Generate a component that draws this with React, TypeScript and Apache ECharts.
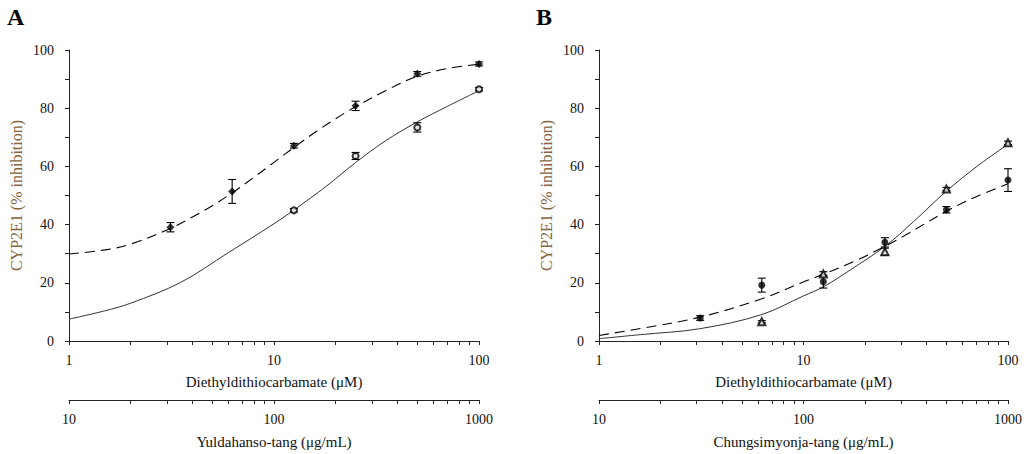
import React, { useEffect, useRef } from 'react';
import * as echarts from 'echarts';

const FONT = 'Liberation Serif';

// ---------- Panel A ----------
const ddcConcA = [3.125, 6.25, 12.5, 25, 50, 100];
const ddcMeanA = [39.1, 51.4, 67.1, 80.8, 91.8, 95.2];
const ddcErrA = [1.6, 4.1, 0.8, 1.6, 0.8, 0.7];
const herbConcA = [125, 250, 500, 1000];
const herbMeanA = [44.9, 63.6, 73.4, 86.5];
const herbErrA = [0.6, 1.2, 1.6, 0.6];
const ddcFitXA = [1, 1.5, 2, 3.125, 4, 5, 6.25, 8, 10, 12.5, 16, 20, 25, 35, 50, 70, 100];
const ddcFitYA = [29.9, 31.3, 33.3, 38.7, 42.6, 46.5, 50.9, 56.3, 61.4, 66.5, 71.9, 76.4, 80.5, 86.0, 91.0, 93.6, 95.1];
const herbFitXA = [10, 15, 20, 35, 60, 100, 125, 180, 250, 350, 500, 700, 1000];
const herbFitYA = [7.5, 10.4, 13.0, 20.1, 30.4, 40.3, 45.0, 53.2, 61.3, 68.8, 75.3, 80.6, 86.0];

// ---------- Panel B ----------
const ddcConcB = [3.125, 6.25, 12.5, 25, 50, 100];
const ddcMeanB = [7.9, 19.2, 20.4, 33.9, 45.1, 55.3];
const ddcErrB = [0.8, 2.4, 2.2, 1.6, 1.1, 3.9];
const herbConcB = [62.5, 125, 250, 500, 1000];
const herbMeanB = [6.6, 23.0, 30.7, 52.2, 68.1];
const herbErrB = [0.4, 0.8, 1.2, 0.6, 0.6];
const ddcFitXB = [1, 1.6, 3.125, 6.25, 10, 12.5, 18, 25, 33, 50, 70, 100];
const ddcFitYB = [1.9, 4.3, 8.2, 14.5, 20.3, 22.9, 27.6, 32.5, 37.2, 44.6, 49.6, 54.0];
const herbFitXB = [10, 16, 31, 62, 100, 125, 170, 250, 345, 500, 705, 1000];
const herbFitYB = [0.8, 2.2, 4.2, 9.0, 15.5, 18.6, 24.5, 32.5, 41.0, 51.5, 60.0, 67.6];

// ---------- Axes ----------
const mainTicks = [1, 2, 3, 4, 5, 6, 7, 8, 9, 10, 20, 30, 40, 50, 60, 70, 80, 90, 100];
const mainLabels = [1, 10, 100];
const herbTicks = [10, 20, 30, 40, 50, 60, 70, 80, 90, 100, 200, 300, 400, 500, 600, 700, 800, 900, 1000];
const herbLabels = [10, 100, 1000];
const yTitle = 'CYP2E1 (% inhibition)';
const ddcTitle = 'Diethyldithiocarbamate (\u03bcM)';
const herbTitleA = 'Yuldahanso-tang (\u03bcg/mL)';
const herbTitleB = 'Chungsimyonja-tang (\u03bcg/mL)';

const zip = (xs: number[], ys: number[]) => xs.map((x, i) => [x, ys[i]]);
const zip3 = (xs: number[], ys: number[], es: number[]) => xs.map((x, i) => [x, ys[i], es[i]]);

const AXIS_COLOR = '#222';
const TEXT_COLOR = '#111';

function xAxisDef(gridIndex: number, min: number, max: number, ticks: number[], labels: number[], name: string, offset: number, nameGap: number) {
  return {
    type: 'log',
    logBase: 10,
    gridIndex,
    min,
    max,
    position: 'bottom',
    offset,
    name,
    nameLocation: 'middle',
    nameGap,
    nameTextStyle: { fontFamily: FONT, fontSize: 15, color: TEXT_COLOR },
    axisLine: { show: true, onZero: false, lineStyle: { color: AXIS_COLOR, width: 1 } },
    axisTick: { show: true, inside: false, length: 4, customValues: ticks, lineStyle: { color: AXIS_COLOR } },
    axisLabel: {
      customValues: labels,
      formatter: (v: number) => String(Math.round(v)),
      fontFamily: FONT,
      fontSize: 14,
      color: TEXT_COLOR,
      margin: 12,
    },
    splitLine: { show: false },
    minorTick: { show: false },
  };
}

function yAxisDef(gridIndex: number) {
  return {
    type: 'value',
    gridIndex,
    min: 0,
    max: 100,
    interval: 20,
    name: yTitle,
    nameLocation: 'middle',
    nameGap: 45,
    nameTextStyle: { fontFamily: FONT, fontSize: 16, color: '#86653f' },
    axisLine: { show: true, lineStyle: { color: AXIS_COLOR, width: 1 } },
    axisTick: { show: true, inside: false, length: 4, lineStyle: { color: AXIS_COLOR } },
    minorTick: { show: true, splitNumber: 2, length: 4, lineStyle: { color: AXIS_COLOR } },
    axisLabel: { fontFamily: FONT, fontSize: 14, color: TEXT_COLOR, margin: 15 },
    splitLine: { show: false },
  };
}

function errorSeries(xAxisIndex: number, yAxisIndex: number, data: number[][]) {
  return {
    type: 'custom',
    xAxisIndex,
    yAxisIndex,
    data,
    encode: { x: 0, y: 1 },
    z: 3,
    renderItem: (params: any, api: any) => {
      const x = api.value(0);
      const y = api.value(1);
      const e = api.value(2);
      const top = api.coord([x, y + e]);
      const bot = api.coord([x, y - e]);
      const hw = 4;
      const st = { stroke: '#000', lineWidth: 1.1 };
      return {
        type: 'group',
        children: [
          { type: 'line', shape: { x1: top[0], y1: top[1], x2: bot[0], y2: bot[1] }, style: st },
          { type: 'line', shape: { x1: top[0] - hw, y1: top[1], x2: top[0] + hw, y2: top[1] }, style: st },
          { type: 'line', shape: { x1: bot[0] - hw, y1: bot[1], x2: bot[0] + hw, y2: bot[1] }, style: st },
        ],
      };
    },
  };
}

function curve(xAxisIndex: number, yAxisIndex: number, data: number[][], dashed: boolean) {
  return {
    type: 'line',
    xAxisIndex,
    yAxisIndex,
    data,
    smooth: 0.35,
    showSymbol: false,
    symbol: 'none',
    z: 2,
    lineStyle: dashed
      ? { color: '#000', width: 1.1, type: [10, 6] }
      : { color: '#333', width: 1, type: 'solid' },
  };
}

function markers(xAxisIndex: number, yAxisIndex: number, data: number[][], symbol: string, size: number) {
  return {
    type: 'scatter',
    xAxisIndex,
    yAxisIndex,
    data,
    symbol,
    symbolSize: size,
    z: 4,
    itemStyle: { color: '#000', borderColor: '#000', borderWidth: symbol.startsWith('empty') ? 0.8 : 0 },
  };
}

export default function App() {
  const ref = useRef<HTMLDivElement>(null);
  useEffect(() => {
    if (!ref.current) return;
    const chart = echarts.init(ref.current, undefined, { renderer: 'svg' });
    chart.setOption({
      animation: false,
      backgroundColor: '#fff',
      grid: [
        { left: 69, top: 50, width: 410, height: 292 },
        { left: 599, top: 50, width: 409, height: 292 },
      ],
      xAxis: [
        xAxisDef(0, 1, 100, mainTicks, mainLabels, ddcTitle, 0, 33),
        xAxisDef(0, 10, 1000, herbTicks, herbLabels, herbTitleA, 59, 34),
        xAxisDef(1, 1, 100, mainTicks, mainLabels, ddcTitle, 0, 33),
        xAxisDef(1, 10, 1000, herbTicks, herbLabels, herbTitleB, 59, 34),
      ],
      yAxis: [yAxisDef(0), yAxisDef(1)],
      graphic: [
        { type: 'text', left: 7, top: 5, style: { text: 'A', font: `bold 24px ${FONT}`, fill: '#000' } },
        { type: 'text', left: 536, top: 5, style: { text: 'B', font: `bold 24px ${FONT}`, fill: '#000' } },
      ],
      series: [
        curve(0, 0, zip(ddcFitXA, ddcFitYA), true),
        curve(1, 0, zip(herbFitXA, herbFitYA), false),
        errorSeries(0, 0, zip3(ddcConcA, ddcMeanA, ddcErrA)),
        errorSeries(1, 0, zip3(herbConcA, herbMeanA, herbErrA)),
        markers(0, 0, zip(ddcConcA, ddcMeanA), 'diamond', 8),
        markers(1, 0, zip(herbConcA, herbMeanA), 'emptyCircle', 6),
        curve(2, 1, zip(ddcFitXB, ddcFitYB), true),
        curve(3, 1, zip(herbFitXB, herbFitYB), false),
        errorSeries(2, 1, zip3(ddcConcB, ddcMeanB, ddcErrB)),
        errorSeries(3, 1, zip3(herbConcB, herbMeanB, herbErrB)),
        markers(2, 1, zip(ddcConcB, ddcMeanB), 'circle', 7),
        markers(3, 1, zip(herbConcB, herbMeanB), 'emptyTriangle', 7),
      ],
    });
    return () => chart.dispose();
  }, []);
  return <div ref={ref} style={{ width: 1026, height: 454, position: 'absolute', left: 0, top: 0 }} />;
}
